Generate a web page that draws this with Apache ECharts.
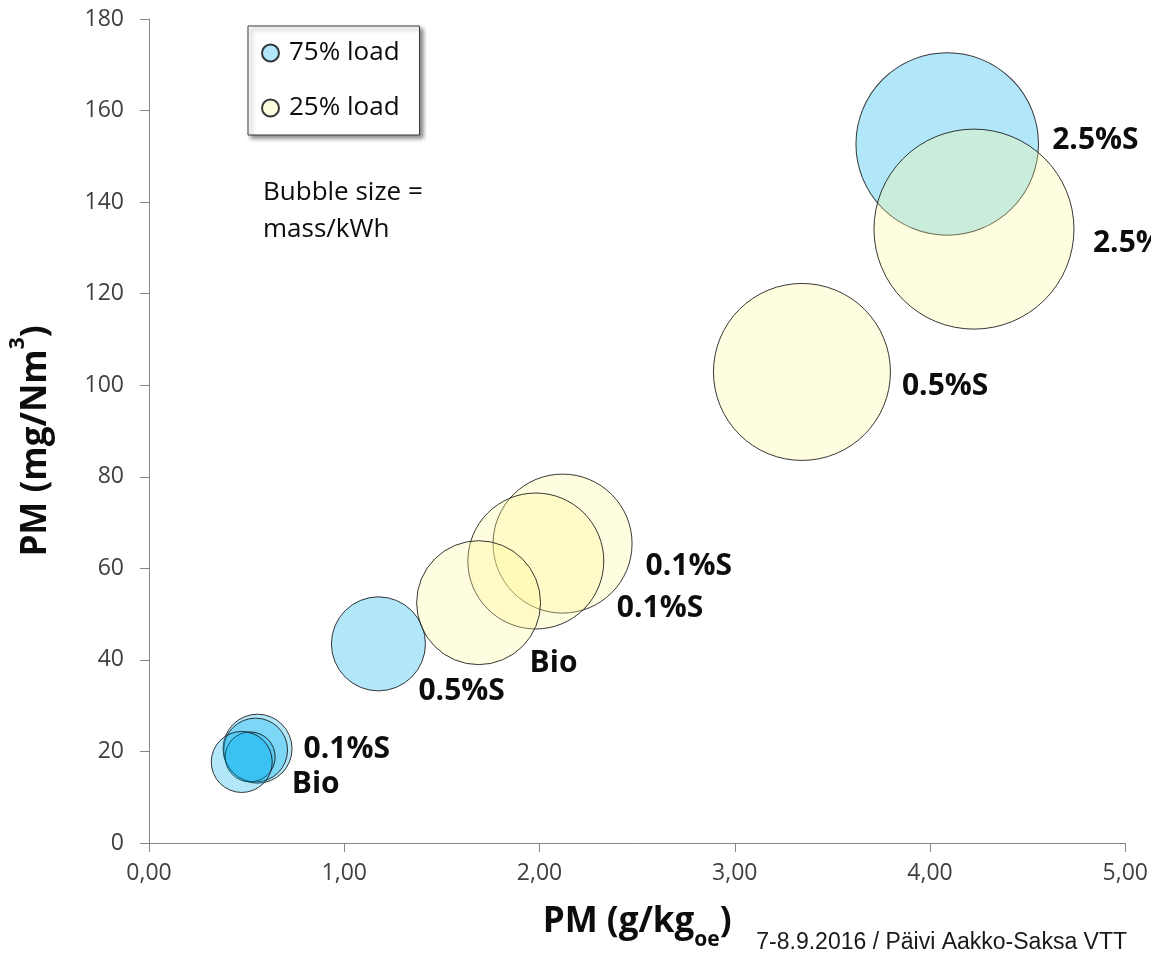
<!DOCTYPE html>
<html>
<head>
<meta charset="utf-8">
<script src="https://cdn.jsdelivr.net/npm/echarts@6/dist/echarts.min.js"></script>
<style>
html,body{margin:0;padding:0;background:#ffffff;}
#chart{width:1151px;height:956px;}
</style>
</head>
<body>
<div id="chart"></div>
<script>
// ---- data ----
const seriesNames = ['75% load', '25% load'];

const blueLabels = ['2.5%S', '0.5%S', '0.1%S', '', '', 'Bio'];
const blueX = [4.088, 1.175, 0.556, 0.546, 0.518, 0.475];
const blueY = [152.7, 43.5, 20.6, 20.3, 18.8, 17.7];
const blueSize = [83.3, 22.1, 11.9, 10.2, 6.25, 9.3];

const yellowLabels = ['2.5%S', '0.5%S', '0.1%S', '0.1%S', 'Bio'];
const yellowX = [4.225, 3.344, 2.118, 1.981, 1.688];
const yellowY = [134.1, 102.9, 65.4, 61.6, 52.5];
const yellowSize = [100, 78.3, 48.3, 46.2, 38.4];

const xMin = 0, xMax = 5, xStep = 1;
const yMin = 0, yMax = 180, yStep = 20;

// ---- styling ----
const blueLabelOffset = [[105, -4], [40, 48], [46, 1], [0, 0], [0, 0], [50, 22]];
const yellowLabelOffset = [[119, 14], [100, 15], [83, 23], [81, 47], [51, 61]];
const MAX_DIAMETER = 200;
const maxSize = Math.max(...blueSize, ...yellowSize);

function buildData(xs, ys, sizes, labels, offsets) {
  return xs.map((x, i) => ({
    name: labels[i],
    value: [x, ys[i], sizes[i]],
    label: { show: labels[i] !== '', offset: offsets[i] }
  }));
}

const labelStyle = {
  position: 'inside',
  align: 'left',
  verticalAlign: 'middle',
  formatter: '{b}',
  fontFamily: 'Open Sans',
  fontWeight: 'bold',
  fontSize: 30,
  color: '#0d0d0d'
};

const axisColor = '#868686';
const chart = echarts.init(document.getElementById('chart'), null, { renderer: 'canvas' });

chart.setOption({
  animation: false,
  backgroundColor: '#ffffff',
  grid: { left: 149, right: 23, top: 19, bottom: 113 },
  legend: {
    data: seriesNames,
    orient: 'vertical',
    left: 248,
    top: 26,
    padding: [12, 20, 12, 13],
    itemGap: 25,
    itemWidth: 17,
    itemHeight: 17,
    icon: 'circle',
    selectedMode: false,
    backgroundColor: '#ffffff',
    borderColor: '#3c3c3c',
    borderWidth: 1,
    shadowBlur: 4,
    shadowColor: 'rgba(0,0,0,0.45)',
    shadowOffsetX: 3,
    shadowOffsetY: 3,
    textStyle: {
      fontFamily: 'Open Sans',
      fontSize: 26,
      color: '#0d0d0d',
      lineHeight: 30,
      padding: [0, 0, 0, 5]
    }
  },
  xAxis: {
    type: 'value',
    min: xMin, max: xMax, interval: xStep,
    splitLine: { show: false },
    axisLine: { show: true, lineStyle: { color: axisColor, width: 1 } },
    axisTick: { show: true, length: 9, lineStyle: { color: axisColor } },
    axisLabel: {
      formatter: v => v.toFixed(2).replace('.', ','),
      fontFamily: 'Open Sans', fontSize: 23, color: '#404040', margin: 19
    },
    name: '{a|PM (g/kg}{s|oe}{a|)}',
    nameLocation: 'middle',
    nameGap: 62,
    nameTextStyle: {
      rich: {
        a: { fontFamily: 'Open Sans', fontWeight: 'bold', fontSize: 35, lineHeight: 44, verticalAlign: 'top', color: '#0d0d0d' },
        s: { fontFamily: 'Open Sans', fontWeight: 'bold', fontSize: 21, lineHeight: 21, verticalAlign: 'top', padding: [25, 0, 0, 0], color: '#0d0d0d' }
      }
    }
  },
  yAxis: {
    type: 'value',
    min: yMin, max: yMax, interval: yStep,
    splitLine: { show: false },
    axisLine: { show: true, lineStyle: { color: axisColor, width: 1 } },
    axisTick: { show: true, length: 9, lineStyle: { color: axisColor } },
    axisLabel: { fontFamily: 'Open Sans', fontSize: 23, color: '#404040', margin: 25 },
    name: '{a|PM (mg/Nm}{s|3}{a|)}',
    nameLocation: 'middle',
    nameRotate: 90,
    nameGap: 95,
    nameTextStyle: {
      padding: [0, 20, 0, 0],
      rich: {
        a: { fontFamily: 'Open Sans', fontWeight: 'bold', fontSize: 35, lineHeight: 46, verticalAlign: 'bottom', color: '#0d0d0d' },
        s: { fontFamily: 'Open Sans', fontWeight: 'bold', fontSize: 21, lineHeight: 30, verticalAlign: 'top', color: '#0d0d0d' }
      }
    }
  },
  series: [
    {
      name: seriesNames[0],
      type: 'scatter',
      data: buildData(blueX, blueY, blueSize, blueLabels, blueLabelOffset),
      symbolSize: v => MAX_DIAMETER * Math.sqrt(v[2] / maxSize),
      itemStyle: { color: 'rgba(0,176,240,0.3)', borderColor: 'rgba(20,20,20,0.85)', borderWidth: 1, opacity: 1 },
      label: labelStyle,
      emphasis: { disabled: true },
      z: 2
    },
    {
      name: seriesNames[1],
      type: 'scatter',
      data: buildData(yellowX, yellowY, yellowSize, yellowLabels, yellowLabelOffset),
      symbolSize: v => MAX_DIAMETER * Math.sqrt(v[2] / maxSize),
      itemStyle: { color: 'rgba(255,250,150,0.3)', borderColor: 'rgba(20,20,20,0.85)', borderWidth: 1, opacity: 1 },
      label: labelStyle,
      emphasis: { disabled: true },
      z: 3
    }
  ],
  graphic: [
    {
      type: 'text',
      left: 263,
      top: 174,
      style: {
        text: 'Bubble size =\nmass/kWh',
        fontFamily: 'Open Sans',
        fontSize: 26,
        lineHeight: 37,
        fill: '#0d0d0d'
      }
    },
    {
      type: 'text',
      right: 24,
      top: 931,
      style: {
        text: '7-8.9.2016 / Päivi Aakko-Saksa VTT',
        fontFamily: 'Liberation Sans',
        fontSize: 23,
        fill: '#1a1a1a'
      }
    }
  ]
});
</script>
</body>
</html>
